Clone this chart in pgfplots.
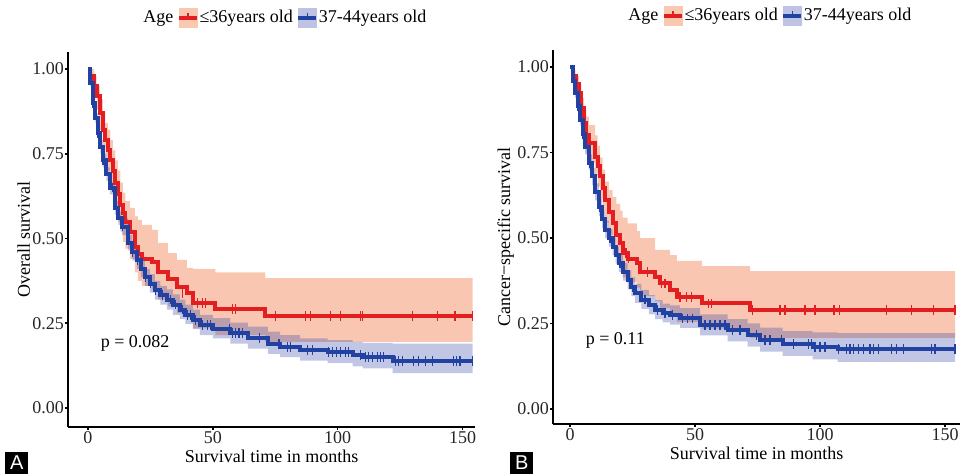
\documentclass[border=0pt]{standalone}
\usepackage{fontspec}
\setmainfont{Liberation Serif}
\setsansfont{Liberation Sans}
\usepackage{pgfplots}
\usepackage{pgfplotstable}
\pgfplotsset{compat=1.18}
\usepgfplotslibrary{fillbetween}

\definecolor{redline}{RGB}{228,30,32}
\definecolor{blueline}{RGB}{33,66,162}
\definecolor{redband}{RGB}{238,100,40}
\definecolor{blueband}{RGB}{45,65,165}
\definecolor{redkey}{RGB}{249,200,176}
\definecolor{bluekey}{RGB}{190,195,228}

% Panel A: overall survival
\pgfplotstableread{
t s lo hi
0 1.00 1.00 1.00
1 0.98 0.96 1.00
2.5 0.95 0.92 0.98
3.5 0.92 0.88 0.95
4.8 0.87 0.82 0.91
6 0.82 0.77 0.87
7 0.79 0.73 0.84
8 0.76 0.70 0.82
9 0.73 0.67 0.79
10 0.70 0.63 0.76
11 0.665 0.59 0.73
12 0.63 0.55 0.70
13 0.60 0.52 0.665
14 0.575 0.49 0.635
15 0.55 0.47 0.61
16.8 0.52 0.44 0.59
18.8 0.475 0.40 0.565
20 0.455 0.375 0.555
21.6 0.44 0.36 0.54
25.6 0.43 0.35 0.525
28 0.40 0.32 0.487
32 0.38 0.30 0.457
35.6 0.357 0.28 0.437
39.6 0.34 0.265 0.413
42 0.31 0.235 0.41
51 0.292 0.215 0.40
71 0.271 0.195 0.383
154 0.271 0.195 0.383
}\ARed
\pgfplotstableread{
t s lo hi
0 1.00 1.00 1.00
1 0.96 0.95 0.97
2 0.90 0.885 0.915
3 0.855 0.84 0.87
4 0.81 0.79 0.83
5 0.77 0.75 0.79
6 0.73 0.71 0.75
7.4 0.69 0.67 0.71
8.8 0.65 0.63 0.67
10.8 0.59 0.57 0.61
12.2 0.56 0.54 0.58
13.6 0.535 0.51 0.56
16 0.487 0.465 0.51
17.8 0.46 0.435 0.485
19.6 0.437 0.41 0.46
21.2 0.41 0.385 0.435
22.8 0.387 0.36 0.41
24.8 0.367 0.34 0.395
26.8 0.348 0.32 0.375
29 0.334 0.305 0.36
31.6 0.32 0.29 0.35
34 0.305 0.275 0.335
36.8 0.29 0.262 0.32
39 0.275 0.248 0.305
42 0.26 0.233 0.29
44.8 0.245 0.215 0.275
50 0.233 0.205 0.265
57 0.221 0.19 0.252
64 0.206 0.175 0.24
72 0.19 0.16 0.225
77 0.18 0.15 0.215
85 0.171 0.14 0.205
96 0.165 0.133 0.20
106 0.156 0.123 0.195
110 0.15 0.117 0.192
122 0.139 0.103 0.19
154 0.139 0.103 0.19
}\ABlue
\pgfplotstableread{
t s
38 0.34
44 0.31
46 0.31
47 0.31
58 0.292
59 0.292
75 0.271
87 0.271
89 0.271
97 0.271
101 0.271
109 0.271
110 0.271
130 0.271
140 0.271
147 0.271
154 0.271
}\ARedC
\pgfplotstableread{
t s
2 0.90
4 0.81
6 0.73
10 0.65
14 0.535
18 0.46
20 0.437
23 0.387
25 0.367
27 0.348
30 0.334
33 0.32
35 0.305
38 0.29
40 0.275
41 0.275
43 0.26
46 0.245
48 0.245
49 0.245
56.5 0.233
58 0.221
59 0.221
60.5 0.221
62 0.221
68.7 0.206
76.5 0.19
80 0.18
81 0.18
88 0.171
90 0.171
96.5 0.165
98 0.165
99.6 0.165
101 0.165
103 0.165
104.5 0.165
109 0.156
111 0.15
112.5 0.15
114 0.15
116 0.15
117 0.15
118.5 0.15
123 0.139
124.5 0.139
126 0.139
130.5 0.139
132.5 0.139
135 0.139
138 0.139
146.4 0.139
147.5 0.139
149 0.139
154 0.139
}\ABlueC

% Panel B: cancer-specific survival
\pgfplotstableread{
t s lo hi
0 1.00 1.00 1.00
1 0.975 0.96 0.99
2.2 0.95 0.93 0.975
3.5 0.923 0.89 0.95
4.5 0.88 0.84 0.91
5.5 0.835 0.79 0.875
6.5 0.80 0.75 0.855
7.5 0.777 0.72 0.83
10 0.738 0.68 0.80
11 0.71 0.65 0.77
12 0.68 0.615 0.735
13 0.645 0.58 0.70
14 0.611 0.545 0.665
15.5 0.575 0.51 0.64
17 0.543 0.475 0.62
18.5 0.51 0.445 0.60
20 0.485 0.415 0.58
21 0.456 0.385 0.56
23 0.44 0.37 0.543
26.7 0.426 0.355 0.52
28 0.40 0.33 0.50
34 0.387 0.315 0.465
36 0.367 0.295 0.465
40 0.348 0.275 0.45
42.7 0.327 0.255 0.433
52.7 0.309 0.235 0.418
72 0.29 0.208 0.403
154 0.29 0.208 0.403
}\BRed
\pgfplotstableread{
t s lo hi
0 1.00 1.00 1.00
1 0.96 0.95 0.97
2 0.923 0.91 0.935
3 0.885 0.87 0.90
4 0.845 0.83 0.86
5 0.805 0.785 0.825
6 0.767 0.745 0.79
7.4 0.72 0.70 0.745
8.8 0.68 0.655 0.705
10 0.635 0.61 0.66
11.5 0.59 0.565 0.615
12.8 0.555 0.53 0.58
14 0.523 0.50 0.55
15.5 0.50 0.475 0.525
17 0.475 0.45 0.50
18.2 0.45 0.425 0.475
19.5 0.426 0.40 0.453
21.2 0.40 0.375 0.427
23 0.377 0.35 0.405
24.5 0.357 0.33 0.385
26 0.338 0.31 0.366
28.5 0.32 0.293 0.348
31.5 0.304 0.277 0.333
34 0.29 0.263 0.318
37 0.28 0.253 0.308
40 0.275 0.247 0.303
44 0.265 0.237 0.295
52 0.246 0.215 0.277
63 0.231 0.198 0.263
71 0.216 0.182 0.25
76 0.202 0.168 0.238
85 0.19 0.155 0.228
97 0.182 0.145 0.224
107 0.175 0.138 0.222
154 0.175 0.138 0.222
}\BBlue
\pgfplotstableread{
t s
22.4 0.456
23.3 0.44
31 0.40
36.7 0.367
38 0.367
44 0.327
46.7 0.327
48.7 0.327
55.3 0.309
56.7 0.309
73 0.29
84 0.29
86 0.29
94 0.29
98 0.29
105.6 0.29
107.7 0.29
126.7 0.29
136.7 0.29
145.3 0.29
154 0.29
}\BRedC
\pgfplotstableread{
t s
3 0.885
5 0.805
8 0.72
12 0.59
16 0.50
20 0.426
25 0.357
30 0.32
35 0.29
38 0.28
41 0.275
45 0.265
47 0.265
49 0.265
54 0.246
56 0.246
58 0.246
60 0.246
62 0.246
65 0.231
68 0.231
74.7 0.216
78 0.202
80 0.202
84.7 0.202
89.3 0.19
95.3 0.19
96.7 0.19
98 0.182
100 0.182
102 0.182
107.3 0.175
110.7 0.175
112 0.175
113.3 0.175
115.3 0.175
117.3 0.175
120 0.175
121.3 0.175
123.3 0.175
128.7 0.175
130.7 0.175
133.3 0.175
144.7 0.175
146 0.175
154 0.175
}\BBlueC

\pgfplotsset{
  kmaxis/.style={
    scale only axis, width=203.5pt, height=187.5pt,
    axis x line=bottom, axis y line=left,
    axis line style={-, line width=1.1pt, black},
    tick align=outside, major tick length=1.3pt,
    every tick/.style={black, line width=0.8pt},
    xtick={0,50,100,150}, xticklabels={0,50,100,150},
    ytick={0,0.25,0.5,0.75,1}, yticklabels={0.00,0.25,0.50,0.75,1.00},
    tick label style={font=\fontsize{9}{10}\selectfont, text=black!85, inner sep=0.6pt},
    label style={font=\fontsize{9}{10}\selectfont, text=black},
    xlabel={Survival time in months},
    xlabel style={yshift=1pt},
    ylabel style={yshift=-2pt},
    legend style={draw=none, fill=none, at={(0.533,1)}, anchor=center, yshift=17pt,
      font=\fontsize{9}{10}\selectfont, legend columns=3,
      /tikz/every even column/.append style={column sep=0pt},
      inner sep=0pt},
    legend cell align=left,
  },
  redkeyimg/.style={legend image code/.code={
      \fill[redkey] (0pt,-4.6pt) rectangle (9pt,4.6pt);
      \draw[redline, line width=1.6pt] (0pt,0pt) -- (9pt,0pt);
      \draw[redline, line width=0.6pt] (4.5pt,0pt) -- (4.5pt,2.6pt);}},
  bluekeyimg/.style={legend image code/.code={
      \fill[bluekey] (0pt,-4.6pt) rectangle (9pt,4.6pt);
      \draw[blueline, line width=1.6pt] (0pt,0pt) -- (9pt,0pt);
      \draw[blueline, line width=0.6pt] (4.5pt,0pt) -- (4.5pt,2.6pt);}},
  kmline/.style={const plot, line width=2pt, forget plot},
  cens/.style={only marks, mark=|, mark size=2.4pt, mark options={line width=0.55pt}, forget plot},
}

\begin{document}
\begin{tikzpicture}

% ---------------- Panel A
\begin{axis}[kmaxis, at={(34pt,23.5pt)}, anchor=south west,
  xmin=-8, xmax=155, ymin=-0.056, ymax=1.05,
  ylabel={Overall survival}, ylabel shift=-1pt]
\addlegendimage{empty legend}\addlegendentry{Age}
\addlegendimage{redkeyimg}\addlegendentry{$\!$≤36years old}
\addlegendimage{bluekeyimg}\addlegendentry{$\!$37-44years old}

\addplot[const plot, draw=none, name path=ARhi, forget plot] table[x=t,y=hi]{\ARed};
\addplot[const plot, draw=none, name path=ARlo, forget plot] table[x=t,y=lo]{\ARed};
\addplot[fill=redband, fill opacity=0.36, draw=none, forget plot] fill between[of=ARhi and ARlo];
\addplot[const plot, draw=none, name path=ABhi, forget plot] table[x=t,y=hi]{\ABlue};
\addplot[const plot, draw=none, name path=ABlo, forget plot] table[x=t,y=lo]{\ABlue};
\addplot[fill=blueband, fill opacity=0.30, draw=none, forget plot] fill between[of=ABhi and ABlo];

\addplot[kmline, redline] table[x=t,y=s]{\ARed};
\addplot[kmline, blueline] table[x=t,y=s]{\ABlue};
\addplot[cens, redline] table[x=t,y=s]{\ARedC};
\addplot[cens, blueline] table[x=t,y=s]{\ABlueC};

\node[anchor=west, font=\fontsize{9}{10}\selectfont] at (axis cs:2.3,0.19) {p = 0.082};
\end{axis}

% ---------------- Panel B
\begin{axis}[kmaxis, at={(276.5pt,25pt)}, anchor=south west,
  xmin=-6.8, xmax=156, ymin=-0.044, ymax=1.05, height=187pt,
  ylabel={Cancer−specific survival}, ylabel shift=-0.5pt]
\addlegendimage{empty legend}\addlegendentry{Age}
\addlegendimage{redkeyimg}\addlegendentry{$\!$≤36years old}
\addlegendimage{bluekeyimg}\addlegendentry{$\!$37-44years old}

\addplot[const plot, draw=none, name path=BRhi, forget plot] table[x=t,y=hi]{\BRed};
\addplot[const plot, draw=none, name path=BRlo, forget plot] table[x=t,y=lo]{\BRed};
\addplot[fill=redband, fill opacity=0.36, draw=none, forget plot] fill between[of=BRhi and BRlo];
\addplot[const plot, draw=none, name path=BBhi, forget plot] table[x=t,y=hi]{\BBlue};
\addplot[const plot, draw=none, name path=BBlo, forget plot] table[x=t,y=lo]{\BBlue};
\addplot[fill=blueband, fill opacity=0.30, draw=none, forget plot] fill between[of=BBhi and BBlo];

\addplot[kmline, redline] table[x=t,y=s]{\BRed};
\addplot[kmline, blueline] table[x=t,y=s]{\BBlue};
\addplot[cens, redline] table[x=t,y=s]{\BRedC};
\addplot[cens, blueline] table[x=t,y=s]{\BBlueC};

\node[anchor=west, font=\fontsize{9}{10}\selectfont] at (axis cs:3.5,0.20) {p = 0.11};
\end{axis}

% panel letters
\node[fill=black, text=white, font=\sffamily\fontsize{10}{10}\selectfont, minimum width=11.5pt, minimum height=11pt, inner sep=0pt, anchor=south west] at (2.5pt,0pt) {A};
\node[fill=black, text=white, font=\sffamily\fontsize{10}{10}\selectfont, minimum width=11.5pt, minimum height=11pt, inner sep=0pt, anchor=south west] at (255pt,0pt) {B};
\path (0pt,0pt) rectangle (481pt,237pt);
\end{tikzpicture}
\end{document}
